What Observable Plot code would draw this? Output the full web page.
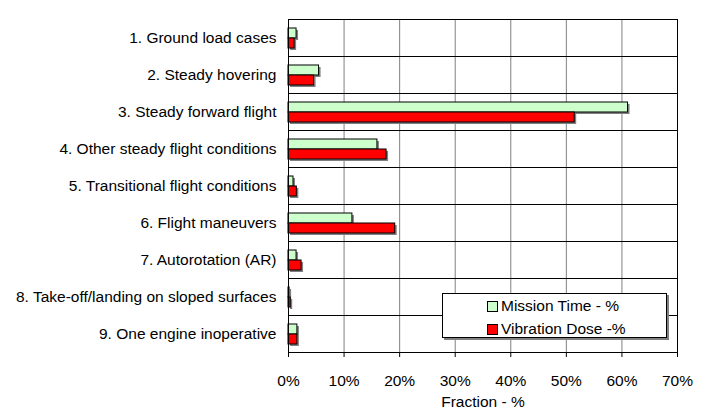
<!DOCTYPE html>
<html>
<head>
<meta charset="utf-8">
<script src="https://cdn.jsdelivr.net/npm/d3@7"></script>
<script src="https://cdn.jsdelivr.net/npm/@observablehq/plot@0.6"></script>
<style>
  html, body { margin: 0; padding: 0; background: #fff; }
  #wrap { position: relative; width: 707px; height: 410px; font-family: "Liberation Sans", Arial, sans-serif; }
  #legend { position: absolute; left: 442px; top: 293px; width: 225px; height: 45px; box-sizing: border-box;
    border: 1px solid #000; background: #fff; box-shadow: 2px 2px 0 #808080; font-size: 15.5px; color: #000; }
  .li { position: absolute; left: 44px; display: flex; align-items: center; white-space: nowrap; }
  .sw { width: 9px; height: 9px; border: 1px solid #000; margin-right: 3px; }
</style>
</head>
<body>
<div id="wrap"></div>
<script>
const categories = [
  "1. Ground load cases",
  "2. Steady hovering",
  "3. Steady forward flight",
  "4. Other steady flight conditions",
  "5. Transitional flight conditions",
  "6. Flight maneuvers",
  "7. Autorotation (AR)",
  "8. Take-off/landing on sloped surfaces",
  "9. One engine inoperative"
];
const seriesNames = ["Mission Time - %", "Vibration Dose -%"];
const seriesColors = ["#ccffcc", "#ff0000"];
const missionTime = [1.45, 5.5, 61.1, 16.0, 0.9, 11.5, 1.45, 0.2, 1.6];
const vibrationDose = [1.1, 4.6, 51.5, 17.65, 1.5, 19.2, 2.35, 0.4, 1.6];
const xTicks = [0, 10, 20, 30, 40, 50, 60, 70];

const data = categories.flatMap((c, i) => [
  {category: c, series: seriesNames[0], value: missionTime[i]},
  {category: c, series: seriesNames[1], value: vibrationDose[i]}
]);

const chart = Plot.plot({
  width: 707,
  height: 410,
  marginLeft: 288,
  marginRight: 30,
  marginTop: 15,
  marginBottom: 54,
  style: {fontFamily: "'Liberation Sans', Arial, sans-serif", fontSize: "15.5px", color: "#000", background: "#fff"},
  x: {domain: [0, 70], ticks: xTicks, tickFormat: d => d + "%", tickSize: 5, tickPadding: 17,
      label: "Fraction - %", labelAnchor: "center", labelArrow: "none", labelOffset: 54},
  y: {domain: seriesNames, paddingInner: 0, paddingOuter: 0.727, axis: null},
  fy: {domain: categories, padding: 0, label: null, tickSize: 0, tickPadding: 12, axis: "left"},
  color: {domain: seriesNames, range: seriesColors},
  marks: [
    Plot.gridX(xTicks.slice(1), {stroke: "#808080", strokeOpacity: 1}),
    Plot.barX(data, {fy: "category", y: "series", x: "value", fill: "#808080", dx: 2, dy: 2}),
    Plot.barX(data, {fy: "category", y: "series", x: "value", fill: "series", stroke: "#000", strokeWidth: 1}),
    Plot.frame({stroke: "#000"})
  ]
});

const wrap = document.getElementById("wrap");
wrap.appendChild(chart);

const legend = document.createElement("div");
legend.id = "legend";
seriesNames.forEach((name, i) => {
  const item = document.createElement("div");
  item.className = "li";
  item.style.top = (i === 0 ? 3 : 26) + "px";
  const sw = document.createElement("span");
  sw.className = "sw";
  sw.style.background = seriesColors[i];
  const tx = document.createElement("span");
  tx.textContent = name;
  item.appendChild(sw);
  item.appendChild(tx);
  legend.appendChild(item);
});
wrap.appendChild(legend);
</script>
</body>
</html>
